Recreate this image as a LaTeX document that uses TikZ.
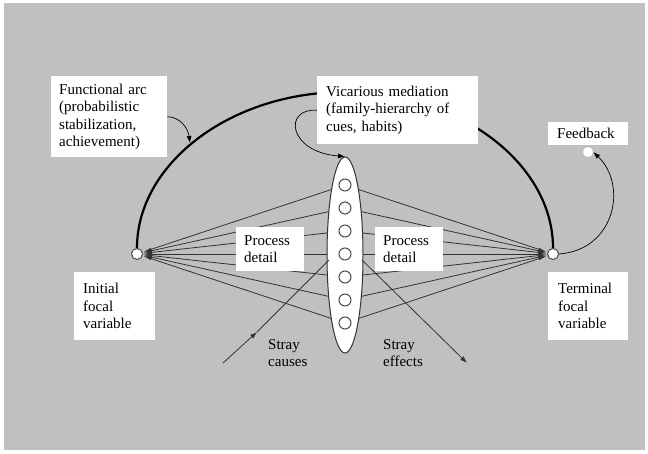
\documentclass[tikz,border=0pt]{standalone}
\usepackage{fontspec}
\setmainfont{Liberation Serif}
\usetikzlibrary{arrows.meta,shapes.geometric}
\definecolor{bggray}{RGB}{192,192,192}
\tikzset{
  box/.style={fill=white,anchor=north west,align=left,inner xsep=8pt,inner ysep=0pt,font=\fontsize{15}{17.5}\selectfont},
  fan/.style={draw=black!80,line width=0.8pt},
  dot/.style={circle,draw=black!70,fill=white,line width=1pt,minimum size=11pt,inner sep=0pt},
  tip/.style={-{Latex[length=7pt,width=5pt]}},
  fanin/.style={{Latex[length=9pt,width=3pt]}-},
  fanout/.style={-{Latex[length=9pt,width=3pt]}}
}
\begin{document}
\begin{tikzpicture}[x=1pt,y=-1pt]
  \useasboundingbox (0,0) rectangle (648,453);
  \fill[bggray] (4,3) rectangle (645,450);
  % focal variables
  \node[dot] (ini) at (137,254) {}; \node[dot] (ter) at (553,254) {};
  \foreach \i in {1,...,7} \coordinate (p\i) at (345,{254+(\i-4)*23});
  \foreach \i in {1,...,7} {\draw[fan,fanin] (ini) -- (p\i); \draw[fan,fanout] (p\i) -- (ter);}
  % functional arc
  \coordinate (top) at (345,92);
  \draw[line width=2.2pt] (ini.north) .. controls (137,164) and (230,92) .. (top) .. controls (460,92) and (553,164) .. (ter.north);
  % labels
  \node[box,text width=100pt,minimum height=81pt] (fun) at (51,76) {Functional arc\\(probabilistic\\stabilization,\\achievement)};
  \node[box,inner xsep=9pt,text width=143pt,minimum height=68pt] (vic) at (317,76) {Vicarious mediation\\(family-hierarchy of\\cues, habits)};
  \node[box,inner xsep=9pt,text width=62pt,minimum height=23pt] (fb) at (548,122) {Feedback};
  \node[box,inner xsep=9pt,text width=63pt,minimum height=68pt] (inil) at (74,272) {Initial\\focal\\variable};
  \node[box,inner xsep=10pt,text width=60pt,minimum height=68pt] (terl) at (548,272) {Terminal\\focal\\variable};
  \node[box,text width=52pt,minimum height=44pt] (pdl) at (236,227) {Process\\detail};
  \node[box,text width=52pt,minimum height=44pt] (pdr) at (375,227) {Process\\detail};
  \node[box,fill=none,inner sep=0pt,anchor=west] (sc) at (268,353) {Stray\\causes};
  \node[box,fill=none,inner sep=0pt,anchor=west] (se) at (383,353) {Stray\\effects};
  % lens
  \node[ellipse,draw=black!80,fill=white,line width=1pt,minimum width=36pt,minimum height=196pt,inner sep=0pt] (lens) at (345,255) {};
  \foreach \i in {1,...,7} \node[dot,minimum size=12pt] (c\i) at (p\i) {};
  \node[circle,fill=white,minimum size=10pt,inner sep=0pt] (fbdot) at (588,152) {};
  % arrows
  \draw[line width=0.7pt,tip] (fun.east) .. controls (180,117) and (188,128) .. (190,143);
  \draw[line width=0.7pt,tip] (vic.west) .. controls (283,108) and (288,152) .. (lens.north);
  \draw[line width=0.7pt,tip] (ter.east) .. controls (615,250) and (628,185) .. (fbdot.east);
  \coordinate (sc0) at (223,363); \coordinate (sc1) at (257,332); \coordinate (sc2) at (329,260);
  \coordinate (se0) at (362,260); \coordinate (se1) at (467,363);
  \draw[fan,tip] (sc0) -- (sc1); \draw[fan] (sc1) -- (sc2);
  \draw[fan,tip] (se0) -- (se1);
\end{tikzpicture}
\end{document}
